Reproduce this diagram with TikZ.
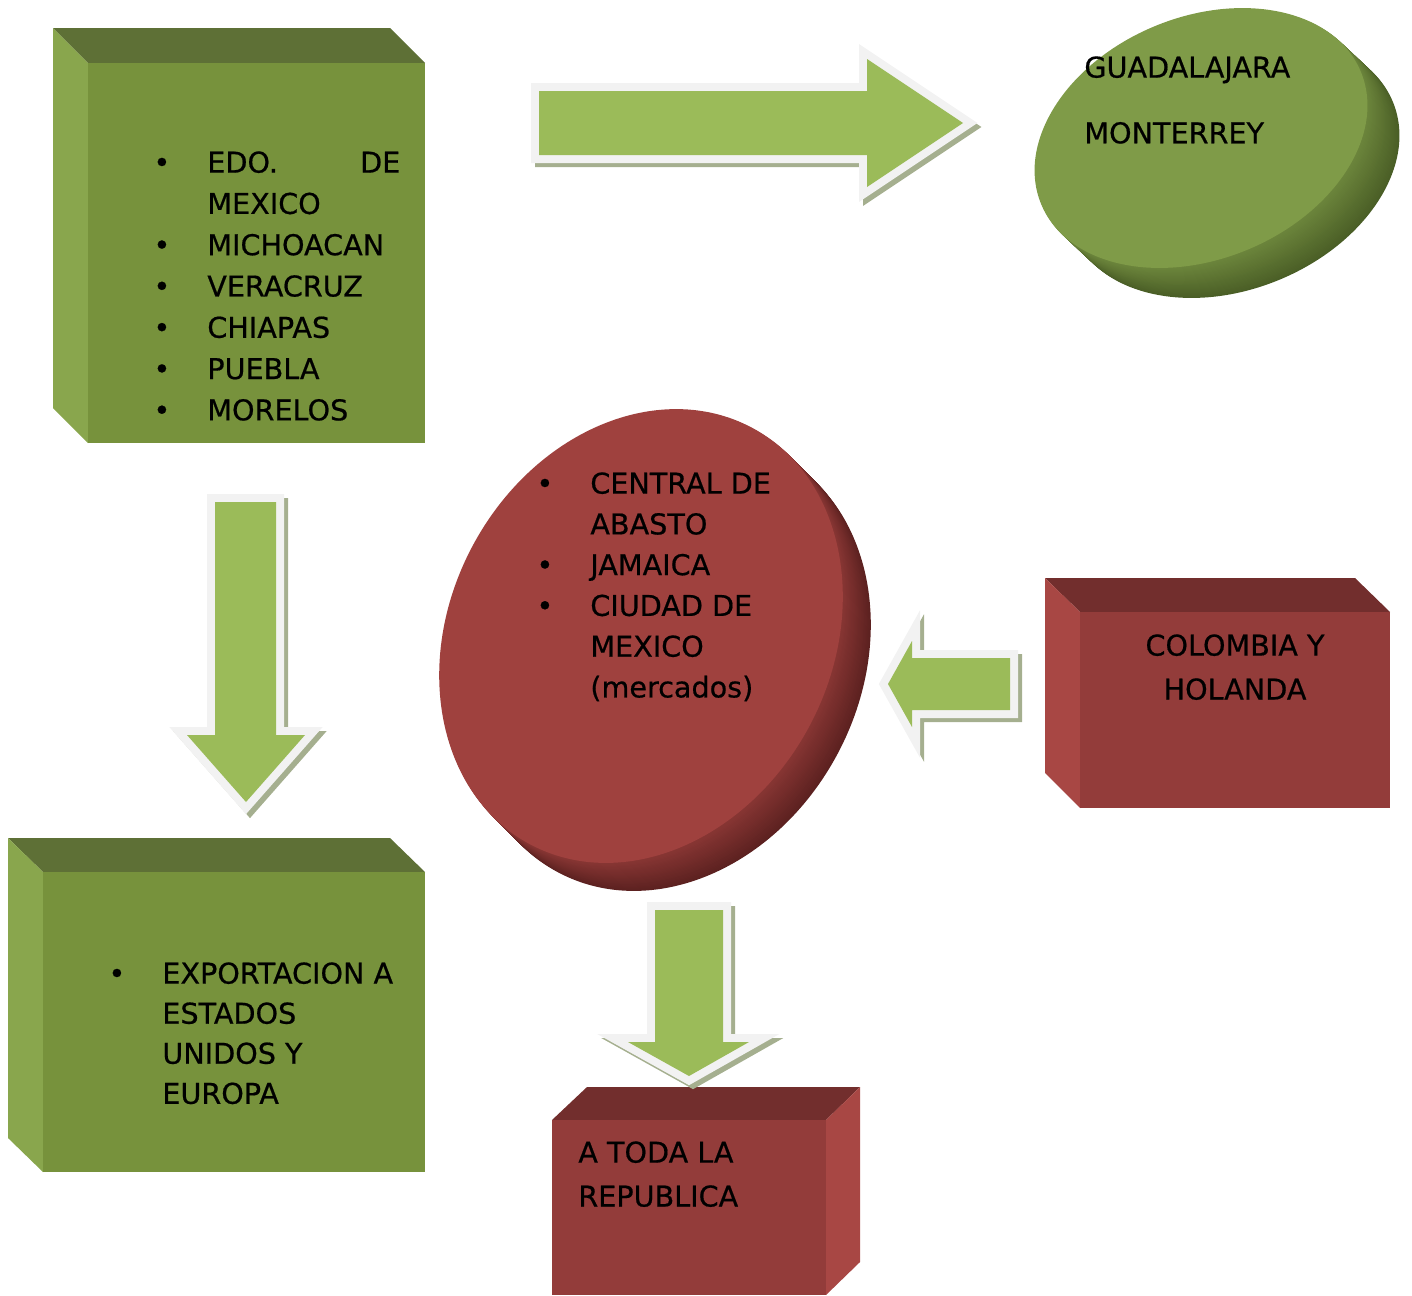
\documentclass[tikz,border=0pt]{standalone}
\usepackage{fontspec}
\setmainfont{DejaVu Sans}[FakeBold=0.6]
\usetikzlibrary{calc}

\definecolor{leafface}{RGB}{119,146,60}
\definecolor{leaftop}{RGB}{94,112,54}
\definecolor{leafside}{RGB}{137,166,77}
\definecolor{brickface}{RGB}{147,60,58}
\definecolor{bricktop}{RGB}{114,46,45}
\definecolor{brickside}{RGB}{168,71,68}
\definecolor{discgreen}{RGB}{127,155,72}
\definecolor{discgreendark}{RGB}{74,94,38}
\definecolor{discred}{RGB}{159,65,62}
\definecolor{discreddark}{RGB}{92,33,32}
\definecolor{arrowfill}{RGB}{155,187,89}
\definecolor{arrowrim}{RGB}{242,242,242}
\definecolor{arrowshade}{RGB}{165,175,143}

\def\dotitem{\llap{\textbullet\hspace{0.74cm}}}
\def\blockarrow#1{%
  \filldraw[arrowshade, line width=0.32cm, line join=miter, shift={(4,4)}] #1;
  \filldraw[arrowrim, line width=0.32cm, line join=miter] #1;
  \fill[arrowfill] #1;}

\tikzset{
  boxtext/.style={inner sep=0pt, anchor=north west, align=left,
    font=\fontsize{16.3}{23.5}\selectfont},
  widetext/.style={boxtext, font=\fontsize{16.3}{25}\selectfont}
}

\begin{document}
\begin{tikzpicture}[x=0.02cm, y=-0.02cm]
		%%%%% START %%%%%
		\useasboundingbox (0,0) rectangle (1412,1295);
		
		% producing states
		\fill[leaftop] (53,28) -- (390,28) -- (425,63) -- (88,63) -- cycle;
		\fill[leafside] (53,28) -- (88,63) -- (88,443) -- (53,408) -- cycle;
		\fill[leafface] (88,63) rectangle (425,443);
		
		% export
		\fill[leaftop] (8,838) -- (390,838) -- (425,872) -- (43,872) -- cycle;
		\fill[leafside] (8,838) -- (43,872) -- (43,1172) -- (8,1138) -- cycle;
		\fill[leafface] (43,872) rectangle (425,1172);
		
		% import
		\fill[bricktop] (1045,578) -- (1355,578) -- (1390,612) -- (1080,612) -- cycle;
		\fill[brickside] (1045,578) -- (1080,612) -- (1080,808) -- (1045,773) -- cycle;
		\fill[brickface] (1080,612) rectangle (1390,808);
		
		% whole country
		\fill[bricktop] (552,1120) -- (587,1087) -- (860,1087) -- (826,1120) -- cycle;
		\fill[brickside] (826,1120) -- (860,1087) -- (860,1262) -- (826,1295) -- cycle;
		\fill[brickface] (552,1120) rectangle (826,1295);
		
		% discs
		\foreach \k in {32,31,...,1}{
			\pgfmathtruncatemacro\mix{35+65*\k/32}
			\fill[discgreendark!\mix!discgreen, shift={(\k,\k*30/32)}, rotate around={22.5:(1201,138)}]
				(1201,138) ellipse [x radius=173, y radius=121];
		}
		\fill[discgreen, rotate around={22.5:(1201,138)}] (1201,138) ellipse [x radius=173, y radius=121];
		
		\foreach \k in {28,27,...,1}{
			\pgfmathtruncatemacro\mix{35+65*\k/28}
			\fill[discreddark!\mix!discred, shift={(\k,\k)}, rotate around={-28:(641,636)}]
				(641,636) ellipse [x radius=191, y radius=236];
		}
		\fill[discred, rotate around={-28:(641,636)}] (641,636) ellipse [x radius=191, y radius=236];
		
		% arrows
		\blockarrow{(539,91) -- (867,91) -- (867,59) -- (963,123) -- (867,187) -- (867,155) -- (539,155) -- cycle}
		\blockarrow{(215,502) -- (276,502) -- (276,735) -- (305,735) -- (246,802) -- (187,735) -- (215,735) -- cycle}
		\blockarrow{(1010,658) -- (1010,710) -- (912,710) -- (912,727) -- (888,684) -- (912,641) -- (912,658) -- cycle}
		\blockarrow{(655,910) -- (723,910) -- (723,1042) -- (749,1042) -- (689,1076) -- (628,1042) -- (655,1042) -- cycle}
		
		% texts
		\node[boxtext] (estados) at (207,151) {\dotitem\makebox[3.86cm][l]{EDO.\hfill DE}\\MEXICO\\\dotitem MICHOACAN\\\dotitem VERACRUZ\\\dotitem CHIAPAS\\\dotitem PUEBLA\\\dotitem MORELOS};
		\node[boxtext, font=\fontsize{16.3}{37.4}\selectfont] (ciudades) at (1084,56) {GUADALAJARA\\MONTERREY};
		\node[boxtext, font=\fontsize{16.3}{23.2}\selectfont] (centrales) at (590,472) {\dotitem CENTRAL DE\\ABASTO\\\dotitem JAMAICA\\\dotitem CIUDAD DE\\MEXICO\\(mercados)};
		\node[widetext, anchor=north, align=center] (importa) at (1235,634) {COLOMBIA Y\\HOLANDA};
		\node[boxtext, font=\fontsize{16.3}{22.8}\selectfont] (exporta) at (162,962) {\dotitem EXPORTACION A\\ESTADOS\\UNIDOS Y\\EUROPA};
		\node[widetext] (republica) at (578,1141) {A TODA LA\\REPUBLICA};
		
		%%%%% END %%%%%
	\end{tikzpicture}
\end{document}
